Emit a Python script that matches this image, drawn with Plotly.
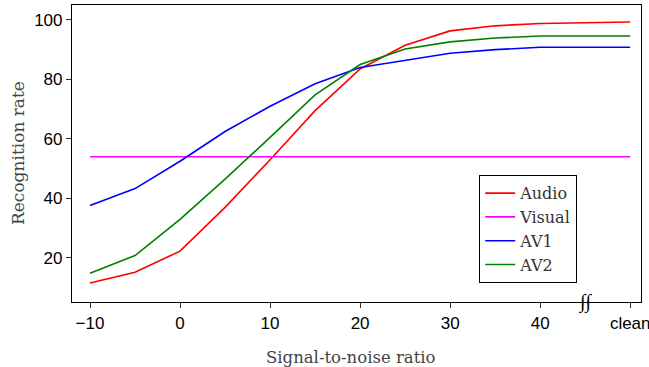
import plotly.graph_objects as go

snr = [-10, -5, 0, 5, 10, 15, 20, 25, 30, 35, 40, 50]
audio = [11.6, 15.2, 22.3, 37.0, 53.0, 69.5, 83.5, 91.5, 96.3, 98.0, 98.8, 99.3]
visual = [54.0] * 12
av1 = [37.6, 43.3, 52.5, 62.5, 71.0, 78.5, 84.0, 86.5, 88.8, 90.0, 90.8, 90.8]
av2 = [14.9, 20.8, 33.0, 46.5, 60.5, 74.8, 85.0, 90.2, 92.6, 93.9, 94.6, 94.6]
x_tickvals = [-10, 0, 10, 20, 30, 40, 50]
x_ticktext = ["\u221210", "0", "10", "20", "30", "40", "clean"]
y_tickvals = [20, 40, 60, 80, 100]

series = [("Audio", audio, "#ff0000"), ("Visual", visual, "#ff00ff"),
          ("AV1", av1, "#0000ff"), ("AV2", av2, "#008000")]

fig = go.Figure()
for name, vals, col in series:
    fig.add_trace(go.Scatter(x=snr, y=vals, mode="lines", name=name,
                             line=dict(color=col, width=1.6)))

serif = "DejaVu Serif"
sans = "Liberation Sans"
L, R, T, B = 72, 641, 5, 302
W, H = R - L, B - T
fig.update_layout(
    width=649, height=367,
    margin=dict(l=L, r=649 - R, t=T, b=367 - B, autoexpand=False),
    plot_bgcolor="white", paper_bgcolor="white",
    showlegend=True,
    legend=dict(x=(479 - L) / W, y=(B - 175) / H, xanchor="left", yanchor="top",
                bgcolor="white", bordercolor="black", borderwidth=1.2,
                font=dict(family=serif, size=16, color="#333"),
                tracegroupgap=0, itemwidth=30),
    xaxis=dict(range=[-12, 51.2], tickvals=x_tickvals, ticktext=x_ticktext,
               ticks="outside", ticklen=5, tickcolor="#333", showgrid=False,
               zeroline=False, showline=True, linecolor="black", linewidth=1.2,
               mirror=True, automargin=False, ticklabeloverflow="allow",
               tickfont=dict(family=sans, size=17, color="black")),
    yaxis=dict(range=[5.2, 105], tickvals=y_tickvals,
               ticks="outside", ticklen=5, tickcolor="#333", showgrid=False,
               zeroline=False, showline=True, linecolor="black", linewidth=1.2,
               mirror=True, automargin=False, ticklabeloverflow="allow",
               tickfont=dict(family=sans, size=17, color="black")),
)
fig.add_annotation(x=(351 - L) / W, y=(B - 357) / H, xref="paper", yref="paper",
                   text="Signal-to-noise ratio", showarrow=False,
                   xanchor="center", yanchor="middle",
                   font=dict(family=serif, size=16.5, color="#444"))
fig.add_annotation(x=(18 - L) / W, y=(B - 153) / H, xref="paper", yref="paper",
                   text="Recognition rate", showarrow=False, textangle=-90,
                   xanchor="center", yanchor="middle",
                   font=dict(family=serif, size=17, color="#444"))
fig.add_annotation(x=45, y=5.2, xref="x", yref="y", text="<i>\u222b\u222b</i>",
                   showarrow=False, font=dict(family="Liberation Serif", size=20, color="black"),
                   yanchor="middle")
fig.write_html("out.html", config={"displayModeBar": False},
               post_script="document.body.style.margin='0';document.body.style.overflow='hidden';")
